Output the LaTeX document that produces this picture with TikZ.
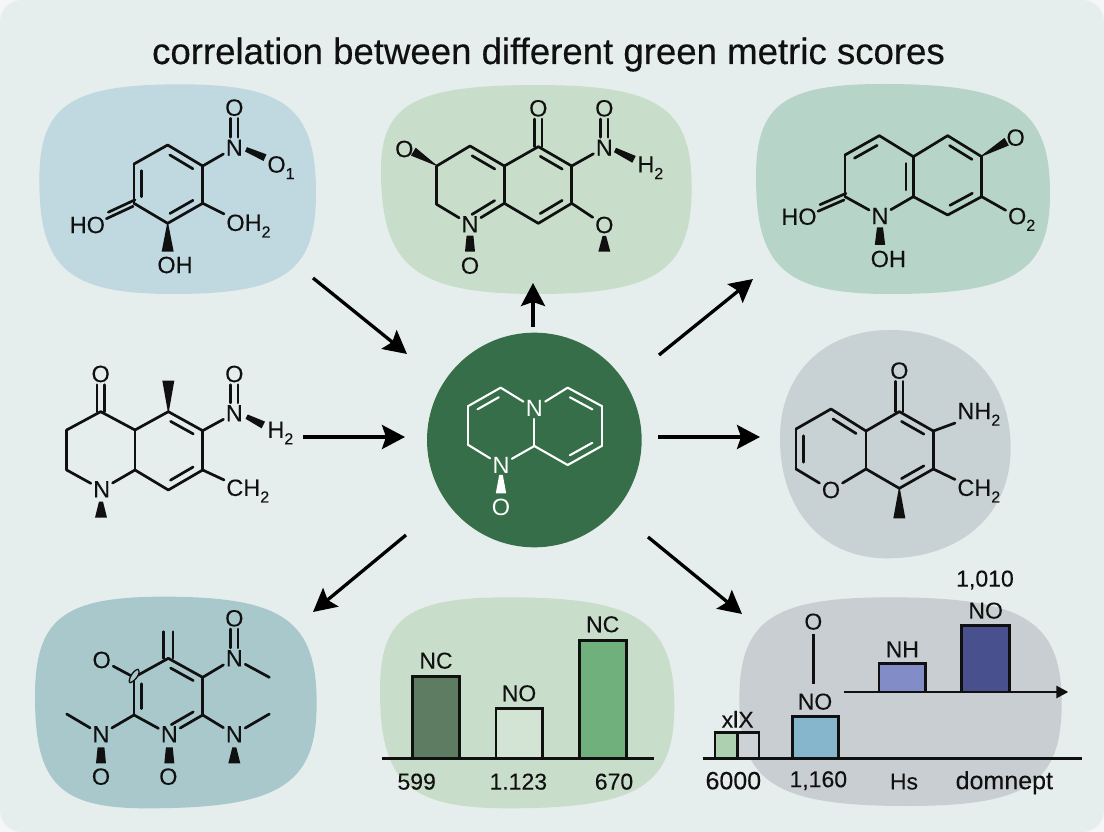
\documentclass[tikz,border=0pt]{standalone}
\usepackage{fontspec}
\setmainfont{Liberation Sans}
\newfontfamily\titlefont[FakeBold=0.4]{Liberation Sans}
\newfontfamily\labelfont[FakeBold=0.12]{Liberation Sans}
\usetikzlibrary{calc,arrows.meta}
\definecolor{pagebg}{HTML}{E5EEEC}
\definecolor{pagecorner}{HTML}{F4F7F6}
\definecolor{blobA}{HTML}{C0D8DF}
\definecolor{blobB}{HTML}{C9DDCB}
\definecolor{blobC}{HTML}{B6D4C8}
\definecolor{blobD}{HTML}{C8D1D3}
\definecolor{blobE}{HTML}{A9C8CC}
\definecolor{blobF}{HTML}{C8CED2}
\definecolor{hub}{HTML}{356E48}
\definecolor{ink}{HTML}{101010}
\definecolor{barDarkGreen}{HTML}{5E7C62}
\definecolor{barPaleGreen}{HTML}{D3E3D4}
\definecolor{barGreen}{HTML}{6FB07D}
\definecolor{barSoftGreen}{HTML}{ACD0B0}
\definecolor{barGrey}{HTML}{CCD2D5}
\definecolor{barBlue}{HTML}{86B6CC}
\definecolor{barPeri}{HTML}{828CC6}
\definecolor{barIndigo}{HTML}{48508E}
\tikzset{
  bond/.style={draw=ink,line width=2.7pt,line cap=round,line join=round},
  wedgefill/.style={fill=ink},
  atom/.style={text=ink,inner sep=2.2pt,font=\labelfont\fontsize{23.5}{23.5}\selectfont},
  axislabel/.style={text=ink,inner sep=0pt,font=\labelfont\fontsize{23}{23}\selectfont},
  widelabel/.style={text=ink,inner sep=0pt,font=\labelfont\fontsize{25}{25}\selectfont},
  barbox/.style={draw=ink,line width=2.4pt,line join=miter},
  axisline/.style={draw=ink,line width=2.6pt},
  flow/.style={draw=black,line width=3.3pt,-{Stealth[length=23pt,width=24pt,inset=4pt]}},
  zoomed/.style={shift={#1},x=.33333pt,y=-.33333pt},
}
\newcommand\sbs[1]{\raisebox{-.28em}{\fontsize{16}{16}\selectfont #1}}
\newcommand\atoms[2]{\foreach \n/\px/\py in {#2}{\coordinate (#1\n) at (\px,\py);}}
\newcommand\bonds[2]{\foreach \s/\e in {#2}{\draw[bond] (#1\s) -- (#1\e);}}
\newcommand\dbl[2]{\draw[bond] ($(#1)!.17!(#2)!7.4pt!90:(#2)$) -- ($(#1)!.83!(#2)!7.4pt!-90:(#1)$);}
\newcommand\twin[4]{\draw[bond,transform canvas={xshift=#3,yshift=#4}] (#1) -- (#2);}
\newcommand\wdg[4]{\fill[wedgefill] ($#1!#3!90:#2$) -- ($#1!#3!-90:#2$) -- ($#2!#4!90:#1$) -- ($#2!#4!-90:#1$) -- cycle;}
\def\blobk{.78}
\newcommand\blob[9]{%
  \pgfmathsetmacro\cax{#6+\blobk*(#4-#6)}\pgfmathsetmacro\cay{#9-\blobk*(#9-#3)}%
  \pgfmathsetmacro\cby{#9+\blobk*(#5-#9)}\pgfmathsetmacro\cbx{#7+\blobk*(#4-#7)}%
  \pgfmathsetmacro\ccx{#7-\blobk*(#7-#2)}\pgfmathsetmacro\ccy{#8+\blobk*(#5-#8)}%
  \pgfmathsetmacro\cdy{#8-\blobk*(#8-#3)}\pgfmathsetmacro\cdx{#6-\blobk*(#6-#2)}%
  \fill[#1] (#6,#3) .. controls (\cax,#3) and (#4,\cay) .. (#4,#9)
    .. controls (#4,\cby) and (\cbx,#5) .. (#7,#5)
    .. controls (\ccx,#5) and (#2,\ccy) .. (#2,#8)
    .. controls (#2,\cdy) and (\cdx,#3) .. (#6,#3) -- cycle;}
\begin{document}
\begin{tikzpicture}[x=1pt,y=-1pt]
\useasboundingbox (0,0) rectangle (1104,832);
\fill[pagecorner] (0,0) rectangle (1104,832);
\fill[pagebg,rounded corners=22pt] (0,0) rectangle (1104,832);
\node[anchor=base,inner sep=0pt,text=ink,font=\titlefont\fontsize{36.6}{36.6}\selectfont] (title) at (548.5,64) {correlation between different green metric scores};

% panel 1
\begin{scope}[zoomed={(30,70)}]
\blob{blobA}{28}{43}{858}{672}{450}{430}{330}{370}
\atoms{p}{a/413/225,b/518/288,c/518/400,d/413/460,e/312/400,f/312/282}
\node[atom] (pN) at (613,233) {N};
\node[atom] (pO) at (613,113) {O};
\node[atom,anchor=west] (pOa) at (705,293) {O\sbs{1}};
\node[atom,anchor=west] (pOb) at (582,468) {OH\sbs{2}};
\node[atom] (pHO) at (172,465) {HO};
\node[atom] (pOH) at (435,585) {OH};
\bonds{p}{a/b,b/c,c/d,d/e,e/f,f/a,b/N,c/Ob}
\dbl{pb}{pa}\dbl{pd}{pc}\dbl{pf}{pe}
\twin{pN}{pO}{-3.7pt}{0pt}\twin{pN}{pO}{3.7pt}{0pt}
\twin{pe}{pHO}{1pt}{3.5pt}\twin{pe}{pHO}{-1pt}{-3pt}
\wdg{(648,238)}{(705,263)}{2.4pt}{3.6pt}
\wdg{(413,460)}{(413,545)}{.5pt}{6pt}
\end{scope}

% panel 2
\begin{scope}[zoomed={(370,70)}]
\blob{blobB}{33}{45}{965}{672}{500}{500}{300}{350}
\atoms{q}{a/505/230,b/605/288,c/605/400,d/505/460,e/403/400,f/403/288,g/300/228,h/200/288,i/200/403}
\node[atom] (qN) at (300,463) {N};
\node[atom] (qOl) at (103,237) {O};
\node[atom] (qOt) at (505,115) {O};
\node[atom] (qNr) at (703,233) {N};
\node[atom] (qOr) at (703,115) {O};
\node[atom,anchor=west] (qH) at (795,293) {H\sbs{2}};
\node[atom] (qOb) at (703,465) {O};
\node[atom] (qOn) at (300,587) {O};
\bonds{q}{a/b,b/c,c/d,d/e,e/f,f/a,f/g,g/h,h/i,i/N,e/N,b/Nr,c/Ob}
\dbl{qb}{qa}\dbl{qd}{qc}\dbl{qf}{qg}\dbl{qN}{qe}
\twin{qa}{qOt}{-3.7pt}{0pt}\twin{qa}{qOt}{3.7pt}{0pt}
\twin{qNr}{qOr}{-3.7pt}{0pt}\twin{qNr}{qOr}{3.7pt}{0pt}
\wdg{(197,285)}{(130,245)}{.5pt}{4.6pt}
\wdg{(735,240)}{(792,268)}{2.4pt}{3.8pt}
\wdg{(703,498)}{(703,545)}{1.8pt}{6pt}
\wdg{(300,497)}{(300,545)}{3.4pt}{5pt}
\end{scope}

% panel 3
\begin{scope}[zoomed={(750,70)}]
\blob{blobC}{18}{42}{900}{672}{400}{420}{320}{370}
\atoms{r}{a/388/197,b/490/260,c/490/380,e/285/380,f/285/255,g/593/197,h/695/260,i/695/380,j/593/435}
\node[atom] (rN) at (390,438) {N};
\node[atom] (rOt) at (797,203) {O};
\node[atom,anchor=west] (rOb) at (767,448) {O\sbs{2}};
\node[atom] (rHO) at (147,440) {HO};
\node[atom] (rOH) at (415,567) {OH};
\bonds{r}{a/b,b/c,c/N,N/e,e/f,f/a,b/g,g/h,h/i,i/j,j/c,i/Ob}
\dbl{ra}{rf}\dbl{rc}{rb}\dbl{rh}{rg}\dbl{rj}{ri}
\twin{re}{rHO}{1pt}{3.3pt}\twin{re}{rHO}{-1pt}{-3.3pt}
\wdg{(695,258)}{(770,215)}{.5pt}{4.4pt}
\wdg{(390,472)}{(390,525)}{3pt}{5.2pt}
\end{scope}

% panel 4 (no backing shape)
\begin{scope}[zoomed={(30,340)}]
\atoms{s}{a/212/215,b/315/270,c/315/390,e/110/390,f/110/270,g/415/215,h/518/272,i/518/390,j/415/450}
\node[atom] (sN) at (215,448) {N};
\node[atom] (sOa) at (212,102) {O};
\node[atom] (sNr) at (613,220) {N};
\node[atom] (sOb) at (613,102) {O};
\node[atom,anchor=west] (sH) at (705,279) {H\sbs{2}};
\node[atom,anchor=west] (sC) at (582,453) {CH\sbs{2}};
\bonds{s}{a/b,b/c,c/N,N/e,e/f,f/a,b/g,g/h,h/i,i/j,j/c,h/Nr,i/C}
\dbl{sh}{sg}\dbl{sj}{si}
\twin{sa}{sOa}{-3.7pt}{0pt}\twin{sa}{sOa}{3.7pt}{0pt}
\twin{sNr}{sOb}{-3.7pt}{0pt}\twin{sNr}{sOb}{3.7pt}{0pt}
\wdg{(415,215)}{(415,122)}{.5pt}{6pt}
\wdg{(650,230)}{(700,255)}{2.4pt}{3.8pt}
\wdg{(213,485)}{(213,533)}{2pt}{6pt}
\end{scope}

% centre
\begin{scope}[zoomed={(420,320)},
  bond/.append style={draw=white,line width=2.1pt},
  wedgefill/.style={fill=white},
  atom/.append style={text=white,font=\fontsize{23.5}{23.5}\selectfont}]
\fill[hub] (343,360) circle (322);
\atoms{c}{a/242/203,b/145/258,d/145/375,f/343/378,g/443/203,h/545/258,i/545/378,j/443/435}
\node[atom] (cNa) at (343,265) {N};
\node[atom] (cNb) at (243,435) {N};
\node[atom] (cO) at (243,562) {O};
\bonds{c}{a/b,b/d,d/Nb,Nb/f,f/Na,Na/a,Na/g,g/h,h/i,i/j,j/f}
\dbl{ca}{cb}\dbl{ch}{cg}\dbl{cj}{ci}
\wdg{(243,465)}{(243,520)}{1.8pt}{5.2pt}
\end{scope}

% panel 6
\begin{scope}[zoomed={(770,325)}]
\def\blobk{.6}
\blob{blobD}{30}{15}{722}{700}{360}{350}{340}{370}
\atoms{t}{a/183/252,b/288/318,c/288/432,e/78/432,f/78/312,g/388/260,h/490/318,i/490/432,j/388/490}
\node[atom] (tO) at (183,495) {O};
\node[atom] (tOa) at (388,137) {O};
\node[atom,anchor=west] (tNH) at (555,268) {NH\sbs{2}};
\node[atom,anchor=west] (tC) at (555,498) {CH\sbs{2}};
\bonds{t}{a/b,b/c,c/O,O/e,e/f,f/a,b/g,g/h,h/i,i/j,j/c,h/NH,i/C}
\dbl{tb}{ta}\dbl{tf}{te}\dbl{th}{tg}\dbl{tj}{ti}
\twin{tg}{tOa}{-3.7pt}{0pt}\twin{tg}{tOa}{3.7pt}{0pt}
\wdg{(388,490)}{(388,580)}{.5pt}{6pt}
\end{scope}

% panel 7
\begin{scope}[zoomed={(30,590)}]
\blob{blobE}{15}{20}{860}{655}{400}{350}{320}{340}
\atoms{u}{a/415/205,b/518/262,c/518/375,e/312/375,f/312/262,m/718/262,n/110/372,o/718/372,p/415/125}
\node[atom] (uN) at (418,433) {N};
\node[atom] (uOl) at (215,210) {O};
\node[atom] (uNa) at (613,205) {N};
\node[atom] (uOa) at (613,85) {O};
\node[atom] (uNb) at (213,433) {N};
\node[atom] (uOb) at (213,560) {O};
\node[atom] (uOc) at (415,560) {O};
\node[atom] (uNc) at (613,433) {N};
\bonds{u}{a/b,b/c,c/N,N/e,e/f,f/a,b/Na,Na/m,e/Nb,Nb/n,c/Nc,Nc/o,f/Ol}
\dbl{uf}{ue}\dbl{ub}{ua}\dbl{uN}{uc}
\twin{ua}{up}{-4.6pt}{0pt}\twin{ua}{up}{4.6pt}{0pt}
\twin{uNa}{uOa}{-3.7pt}{0pt}\twin{uNa}{uOa}{3.7pt}{0pt}
\wdg{(213,472)}{(213,520)}{3.4pt}{5pt}
\wdg{(418,472)}{(418,520)}{3.4pt}{5pt}
\wdg{(613,472)}{(613,520)}{2pt}{6pt}
\draw[fill=blobE,draw=ink,line width=1.3pt] (324,238) .. controls (336,250) and (310,278) .. (300,278) .. controls (292,274) and (308,240) .. (324,238) -- cycle;
\end{scope}

% panel 8 (bars)
\begin{scope}[zoomed={(375,590)}]
\blob{blobB}{15}{22}{898}{655}{400}{400}{300}{350}
\draw[barbox,fill=barDarkGreen] (113,505) rectangle (253,260);
\draw[barbox,fill=barPaleGreen] (363,505) rectangle (503,355);
\draw[barbox,fill=barGreen] (613,505) rectangle (755,152);
\draw[axisline] (20,505) -- (838,505);
\node[axislabel] (vNCa) at (183,212) {NC};
\node[axislabel] (vNO) at (432,310) {NO};
\node[axislabel] (vNCb) at (683,103) {NC};
\node[axislabel] (vA) at (125,575) {599};
\node[axislabel] (vB) at (430,575) {1.123};
\node[axislabel] (vC) at (717,575) {670};
\end{scope}

% panel 9 (bars)
\begin{scope}[zoomed={(690,560)}]
\blob{blobF}{148}{112}{1115}{738}{600}{650}{420}{430}
\draw[barbox,fill=barSoftGreen] (75,595) rectangle (142,517);
\draw[barbox,fill=barGrey] (142,595) rectangle (207,517);
\draw[barbox,fill=barBlue] (307,595) rectangle (445,470);
\draw[barbox,fill=barPeri] (567,396) rectangle (707,311);
\draw[barbox,fill=barIndigo] (815,396) rectangle (958,196);
\draw[axisline] (38,595) -- (1175,595);
\coordinate (wAxisA) at (462,396);
\coordinate (wAxisB) at (1135,396);
\draw[axisline,-{Stealth[length=12pt,width=12pt,inset=0pt]}] (wAxisA) -- (wAxisB);
\node[axislabel] (wX) at (143,478) {xlX};
\node[axislabel] (wO) at (370,185) {O};
\node[axislabel] (wNOa) at (375,425) {NO};
\coordinate (wStemA) at (370,222);
\coordinate (wStemB) at (370,372);
\draw[line width=2.7pt,draw=ink] (wStemA) -- (wStemB);
\node[axislabel] (wNH) at (637,268) {NH};
\node[axislabel] (wNOb) at (887,152) {NO};
\node[axislabel] (wTop) at (885,60) {1,010};
\node[widelabel] (wA) at (130,662) {6000};
\node[axislabel] (wB) at (385,662) {1,160};
\node[axislabel] (wC) at (642,665) {Hs};
\node[widelabel] (wD) at (943,668) {domnept};
\end{scope}

% arrows
\coordinate (fA) at (313,278); \coordinate (fAe) at (407,354);
\coordinate (fB) at (303,437); \coordinate (fBe) at (405,437);
\coordinate (fC) at (533,327); \coordinate (fCe) at (533,283);
\coordinate (fD) at (659,355); \coordinate (fDe) at (753,279);
\coordinate (fE) at (658,437); \coordinate (fEe) at (760,437);
\coordinate (fF) at (406,535); \coordinate (fFe) at (313,612);
\coordinate (fG) at (648,537); \coordinate (fGe) at (742,614);
\foreach \s/\e in {fA/fAe,fB/fBe,fC/fCe,fD/fDe,fE/fEe,fF/fFe,fG/fGe}{\draw[flow] (\s) -- (\e);}
\end{tikzpicture}
\end{document}
